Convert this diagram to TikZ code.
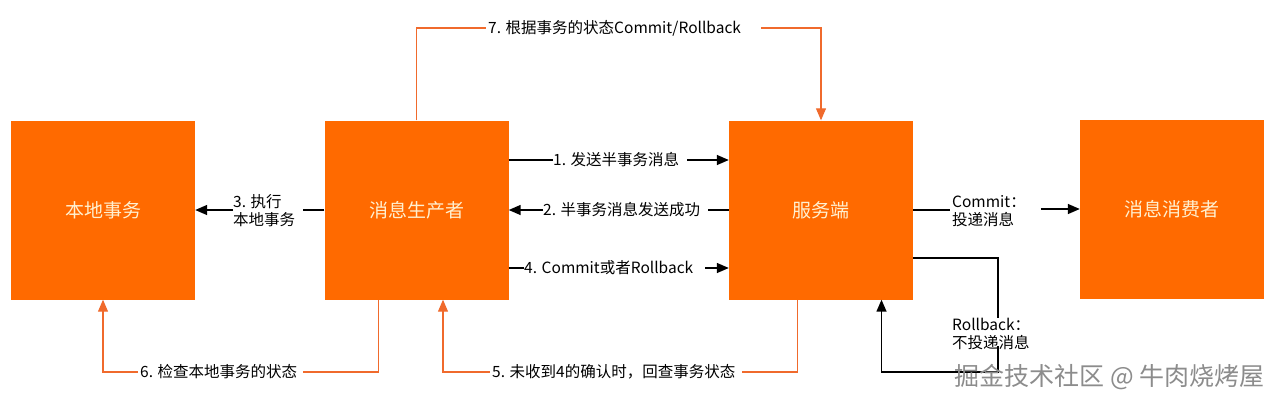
\documentclass[tikz,border=0pt]{standalone}
\usepackage{fontspec}
\setmainfont{Noto Sans CJK SC}
\usetikzlibrary{arrows.meta}
\definecolor{boxorange}{HTML}{FF6A00}
\definecolor{lineorange}{HTML}{F06A2C}
\definecolor{boxtext}{HTML}{FFF0D0}
\tikzset{
	box/.style={fill=boxorange, draw=none, minimum width=184, minimum height=179, text=boxtext, font=\fontsize{19}{23}\selectfont},
	lbl/.style={anchor=west, inner sep=0pt, align=left, font=\fontsize{15.5}{18}\selectfont},
	blk/.style={line width=0.5mm, black},
	org/.style={line width=0.4mm, lineorange},
	tip/.style={-{Triangle[length=12pt, width=10pt]}},
}

\begin{document}
\begin{tikzpicture}[x=1pt, y=-1pt]
		%%%%% START %%%%%
		\useasboundingbox (0, 0) rectangle (1280, 405);
		
		\node[box] (local) at (103, 210) {本地事务};
		\node[box] (prod) at (416.5, 210) {消息生产者};
		\node[box] (server) at (821, 210) {服务端};
		\node[box] (consumer) at (1172, 209) {消息消费者};
		
		\node[lbl] (l7) at (488, 28) {7. 根据事务的状态Commit/Rollback};
		\node[lbl] (l1) at (553, 160) {1. 发送半事务消息};
		\node[lbl] (l2) at (543, 210) {2. 半事务消息发送成功};
		\node[lbl] (l4) at (524, 268) {4. Commit或者Rollback};
		\node[lbl] (l3) at (233, 211) {3. 执行\\本地事务};
		\node[lbl] (l6) at (140, 372) {6. 检查本地事务的状态};
		\node[lbl] (l5) at (492, 372) {5. 未收到4的确认时，回查事务状态};
		\node[lbl] (lc) at (952, 211) {Commit：\\投递消息};
		\node[lbl] (lr) at (952, 334) {Rollback：\\不投递消息};
		
		\coordinate (p6) at ([xshift=-38]prod.south);
		\coordinate (s5) at ([xshift=-23.5]server.south);
		\coordinate (p5) at ([xshift=26.5]prod.south);
		\coordinate (rbtop) at (998, 258);
		\coordinate (rbbot) at (998, 372);
		\coordinate (s8) at ([xshift=60.5]server.south);
		
		% orange lines
		\draw[org] (prod.north) |- ([xshift=-2]l7.west);
		\draw[org, tip] ([xshift=20]l7.east) -| (server.north);
		\draw[org] (p6) |- ([xshift=6]l6.east);
		\draw[org, tip] ([xshift=-2]l6.west) -| (local.south);
		\draw[org] (s5) |- ([xshift=6]l5.east);
		\draw[org, tip] ([xshift=-2]l5.west) -| (p5);
		
		% black lines
		\draw[blk] (prod.east |- l1.west) -- (l1.west);
		\draw[blk, tip] ([xshift=8]l1.east) -- (server.west |- l1.east);
		\draw[blk] (server.west |- l2.east) -- ([xshift=8]l2.east);
		\draw[blk, tip] (l2.west) -- (prod.east |- l2.west);
		\draw[blk] (prod.east |- l4.west) -- (l4.west);
		\draw[blk, tip] ([xshift=12]l4.east) -- (server.west |- l4.east);
		\draw[blk] (prod.west) -- ([xshift=8]l3.east |- prod.west);
		\draw[blk, tip] (l3.west |- prod.west) -- (local.east);
		\draw[blk] (server.east) -- ([xshift=-2]lc.west |- server.east);
		\draw[blk, tip] ([xshift=-39]consumer.west) -- (consumer.west);
		\draw[blk] (server.east |- rbtop) -- (rbtop) -- (rbtop |- lr.north);
		\draw[blk, tip] ([yshift=4]rbtop |- lr.south) -- (rbbot) -| (s8);
		
		\node[text=black!45, font=\fontsize{25}{30}\selectfont, anchor=east, inner sep=0pt] (mark) at (1265, 377) {掘金技术社区 @ 牛肉烧烤屋};
		%%%%% END %%%%%
	\end{tikzpicture}
\end{document}
